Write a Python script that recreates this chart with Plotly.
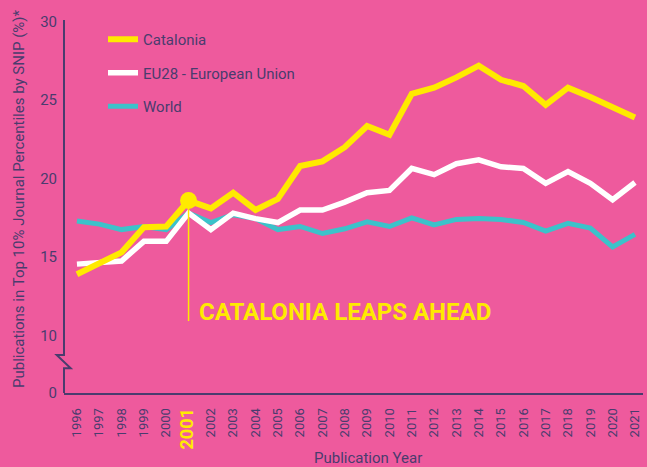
import plotly.graph_objects as go

years = list(range(1996, 2022))
catalonia = [13.9, 14.6, 15.3, 16.9, 16.95, 18.6, 18.1, 19.1, 18.0, 18.7, 20.8, 21.1,
             22.0, 23.35, 22.8, 25.4, 25.8, 26.45, 27.2, 26.3, 25.9, 24.7, 25.8, 25.2,
             24.55, 23.9]
eu28 = [14.55, 14.65, 14.75, 16.0, 16.0, 17.8, 16.75, 17.8, 17.45, 17.2, 18.0, 18.0,
        18.5, 19.1, 19.25, 20.65, 20.25, 20.95, 21.2, 20.75, 20.65, 19.7, 20.45, 19.7,
        18.65, 19.75]
world = [17.3, 17.1, 16.75, 16.95, 16.75, 17.8, 17.2, 17.7, 17.45, 16.75, 16.95, 16.5,
         16.8, 17.25, 16.95, 17.5, 17.05, 17.4, 17.45, 17.4, 17.2, 16.65, 17.15, 16.85,
         15.65, 16.45]
series_names = ["Catalonia", "EU28 - European Union", "World"]
highlight_year = 2001
annotation_text = "CATALONIA LEAPS AHEAD"
y_tick_labels = ["0", "10", "15", "20", "25", "30"]
x_title = "Publication Year"
y_title = "Publications in Top 10% Journal Percentiles by SNIP (%)*"

PINK = "#EE5A9D"
INK = "#4A3C6E"
YELLOW = "#FFEA00"
WHITE = "#FFFFFF"
CYAN = "#3CC2CA"
FONT = "Roboto"

Y_BOTTOM = 6.335  # broken axis: bottom of the axis stands for 0
y_tick_vals = [Y_BOTTOM, 10, 15, 20, 25, 30]

x_tick_text = []
for yr in years:
    if yr == highlight_year:
        x_tick_text.append(
            f"<span style='color:{YELLOW};font-size:18px;font-weight:bold'>{yr}</span>")
    else:
        x_tick_text.append(str(yr))

fig = go.Figure()
fig.add_trace(go.Scatter(x=years, y=world, name=series_names[2], mode="lines",
                         line=dict(color=CYAN, width=5), legendrank=3))
fig.add_trace(go.Scatter(x=years, y=eu28, name=series_names[1], mode="lines",
                         line=dict(color=WHITE, width=5.5), legendrank=2))
fig.add_trace(go.Scatter(x=years, y=catalonia, name=series_names[0], mode="lines",
                         line=dict(color=YELLOW, width=6), legendrank=1))

hi_val = catalonia[years.index(highlight_year)]
# vertical marker line
fig.add_trace(go.Scatter(x=[highlight_year, highlight_year], y=[10.92, hi_val],
                         mode="lines", line=dict(color=YELLOW, width=1.5),
                         showlegend=False, hoverinfo="skip"))
fig.add_trace(go.Scatter(x=[highlight_year], y=[hi_val], mode="markers",
                         marker=dict(color=YELLOW, size=17), showlegend=False))

fig.add_annotation(x=highlight_year, y=11.52, xref="x", yref="y", text=f"<b>{annotation_text}</b>",
                   showarrow=False, xanchor="left", yanchor="middle", xshift=8,
                   font=dict(family=FONT, size=24, color=YELLOW))

# axis titles
fig.add_annotation(x=(368 - 64) / 579, y=-(458 - 393) / 373, xref="paper", yref="paper",
                   text=x_title, showarrow=False, xanchor="center", yanchor="middle",
                   font=dict(family=FONT, size=15, color=INK))
fig.add_annotation(x=(19 - 64) / 579, y=(393 - 199) / 373, xref="paper", yref="paper",
                   text=y_title, showarrow=False, textangle=-90, xanchor="center",
                   yanchor="middle", font=dict(family=FONT, size=15, color=INK))

# left axis with break
def px(xp):
    return (xp - 64) / 579

def py(yp):
    return (393 - yp) / 373

path = (f"M {px(64)},{py(20)} L {px(64)},{py(355)} L {px(56.7)},{py(355)} "
        f"L {px(70.7)},{py(368.3)} L {px(64)},{py(368.3)} L {px(64)},{py(393)}")
fig.add_shape(type="path", path=path, xref="paper", yref="paper",
              line=dict(color=INK, width=2))

fig.update_layout(
    width=647, height=467, autosize=False,
    margin=dict(l=64, r=4, t=20, b=74),
    paper_bgcolor=PINK, plot_bgcolor=PINK,
    font=dict(family=FONT, color=INK),
    legend=dict(x=(103 - 64) / 579, y=py(23), xanchor="left", yanchor="top",
                bgcolor="rgba(0,0,0,0)", font=dict(family=FONT, size=15, color=INK),
                tracegroupgap=11, traceorder="grouped"),
    xaxis=dict(range=[1995.42, 2021.36], tickvals=years, ticktext=x_tick_text,
               tickangle=-90, showgrid=False, zeroline=False, showline=True,
               linecolor=INK, linewidth=2, ticks="", ticklabelstandoff=8,
               tickfont=dict(family=FONT, size=13, color=INK)),
    yaxis=dict(range=[Y_BOTTOM, 30.11], tickvals=y_tick_vals, ticktext=y_tick_labels,
               showgrid=False, zeroline=False, showline=False, ticks="",
               ticklabelstandoff=6, tickfont=dict(family=FONT, size=15, color=INK)),
    showlegend=True,
)
for i, tr in enumerate(fig.data[:3]):
    tr.legendgroup = f"g{i}"

fig.write_html("out.html", config={"displayModeBar": False},
               post_script="document.body.style.margin='0';")
